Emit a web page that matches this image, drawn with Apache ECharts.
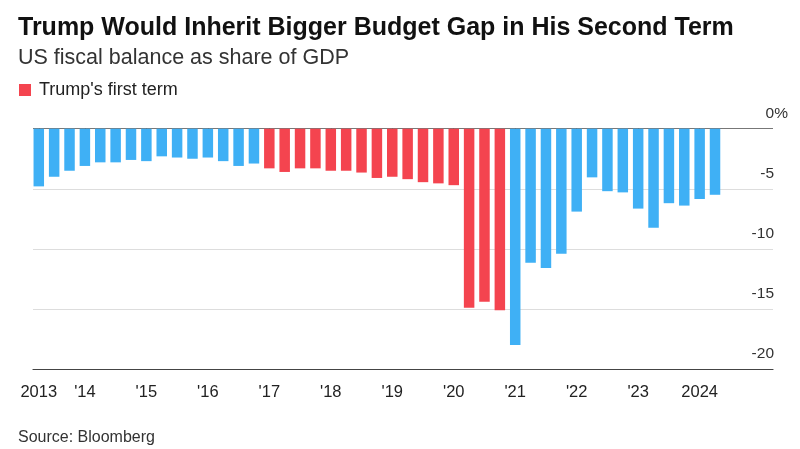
<!DOCTYPE html>
<html>
<head>
<meta charset="utf-8">
<script src="https://cdn.jsdelivr.net/npm/echarts@6/dist/echarts.min.js"></script>
<style>html,body{margin:0;padding:0;background:#fff}#c{width:800px;height:449px}</style>
</head>
<body>
<div id="c"></div>
<script>
const quarters = ['2013 Q2','2013 Q3','2013 Q4',
  '2014 Q1','2014 Q2','2014 Q3','2014 Q4',
  '2015 Q1','2015 Q2','2015 Q3','2015 Q4',
  '2016 Q1','2016 Q2','2016 Q3','2016 Q4',
  '2017 Q1','2017 Q2','2017 Q3','2017 Q4',
  '2018 Q1','2018 Q2','2018 Q3','2018 Q4',
  '2019 Q1','2019 Q2','2019 Q3','2019 Q4',
  '2020 Q1','2020 Q2','2020 Q3','2020 Q4',
  '2021 Q1','2021 Q2','2021 Q3','2021 Q4',
  '2022 Q1','2022 Q2','2022 Q3','2022 Q4',
  '2023 Q1','2023 Q2','2023 Q3','2023 Q4',
  '2024 Q1','2024 Q2'];
const balance = [-4.8,-4.0,-3.5,
  -3.1,-2.8,-2.8,-2.6,
  -2.7,-2.3,-2.4,-2.5,
  -2.4,-2.7,-3.1,-2.9,
  -3.3,-3.6,-3.3,-3.3,
  -3.5,-3.5,-3.65,-4.1,
  -4.0,-4.2,-4.45,-4.55,
  -4.7,-14.9,-14.4,-15.1,
  -18.0,-11.15,-11.6,-10.4,
  -6.9,-4.05,-5.2,-5.3,
  -6.65,-8.25,-6.2,-6.4,
  -5.85,-5.5];
const firstTermStart = '2017 Q1';
const firstTermEnd = '2020 Q4';
const tickQuarters = ['2013 Q2','2014 Q1','2015 Q1','2016 Q1','2017 Q1','2018 Q1','2019 Q1','2020 Q1','2021 Q1','2022 Q1','2023 Q1','2024 Q1'];
const tickLabels = ['2013',"'14","'15","'16","'17","'18","'19","'20","'21","'22","'23",'2024'];

const iS = quarters.indexOf(firstTermStart), iE = quarters.indexOf(firstTermEnd);
const inTerm = i => i >= iS && i <= iE;
const otherData = balance.map((v,i) => inTerm(i) ? null : v);
const termData = balance.map((v,i) => inTerm(i) ? v : null);
const tickIdx = tickQuarters.map(q => quarters.indexOf(q));

const FONT = '"Liberation Sans", Arial, sans-serif';
const chart = echarts.init(document.getElementById('c'), null, {renderer:'canvas'});
chart.setOption({
  animation: false,
  backgroundColor: '#fff',
  title: [
    {text: 'Trump Would Inherit Bigger Budget Gap in His Second Term', left: 13, top: 11,
     textStyle: {fontFamily: FONT, fontWeight: 'bold', fontSize: 25, color: '#111'}},
    {text: 'US fiscal balance as share of GDP', left: 13, top: 42,
     textStyle: {fontFamily: FONT, fontWeight: 'normal', fontSize: 21.5, color: '#333'}},
    {text: 'Source: Bloomberg', left: 13, top: 425,
     textStyle: {fontFamily: FONT, fontWeight: 'normal', fontSize: 16, color: '#333'}}
  ],
  legend: {
    data: ["Trump's first term"], left: 14, top: 76, icon: 'rect', itemWidth: 12, itemHeight: 12, itemGap: 10,
    textStyle: {fontFamily: FONT, fontSize: 18, color: '#222', padding: [0,0,0,3]}
  },
  grid: [
    {left: 31.1, right: 77.3, top: 128.7, bottom: 80},
    {left: 33, right: 27, top: 128.7, bottom: 80}
  ],
  xAxis: [
    {type: 'category', gridIndex: 0, data: quarters, boundaryGap: true,
     axisLine: {show: false},
     axisTick: {show: true, alignWithLabel: true, length: 6, lineStyle: {color: '#444', width: 1.2},
       interval: (i) => tickIdx.includes(i)},
     axisLabel: {interval: (i) => tickIdx.includes(i), margin: 15,
       formatter: (v, i) => { const k = tickQuarters.indexOf(v); return k >= 0 ? tickLabels[k] : ''; },
       fontFamily: FONT, fontSize: 16.5, color: '#222'}},
    {type: 'value', gridIndex: 1, min: 0, max: 1, show: true,
     axisLine: {show: true, onZero: false, lineStyle: {color: '#444', width: 1.2}},
     axisTick: {show: false}, axisLabel: {show: false}, splitLine: {show: false}}
  ],
  yAxis: [
    {type: 'value', gridIndex: 0, min: -20, max: 0, interval: 5, show: false},
    {type: 'value', gridIndex: 1, min: -20, max: 0, interval: 5, position: 'right',
     axisLine: {show: false}, axisTick: {show: false},
     splitLine: {show: true, lineStyle: {color: ['#444','#ddd','#ddd','#ddd','#777'], width: 1.2}},
     axisLabel: {show: true, margin: 15, align: 'right', verticalAlign: 'bottom', padding: [0,0,7,0],
       formatter: v => v === 0 ? '0%' : v + '{s|}',
       fontFamily: FONT, fontSize: 15.5, color: '#333',
       rich: {s: {width: 14, fontSize: 15.5}}}}
  ],
  series: [
    {name: 'Other', type: 'bar', xAxisIndex: 0, yAxisIndex: 0, stack: 'all', data: otherData,
     barWidth: 10.5, itemStyle: {color: '#3fb0f5'}},
    {name: "Trump's first term", type: 'bar', xAxisIndex: 0, yAxisIndex: 0, stack: 'all', data: termData,
     barWidth: 10.5, itemStyle: {color: '#f4444f'}}
  ]
});
</script>
</body>
</html>
